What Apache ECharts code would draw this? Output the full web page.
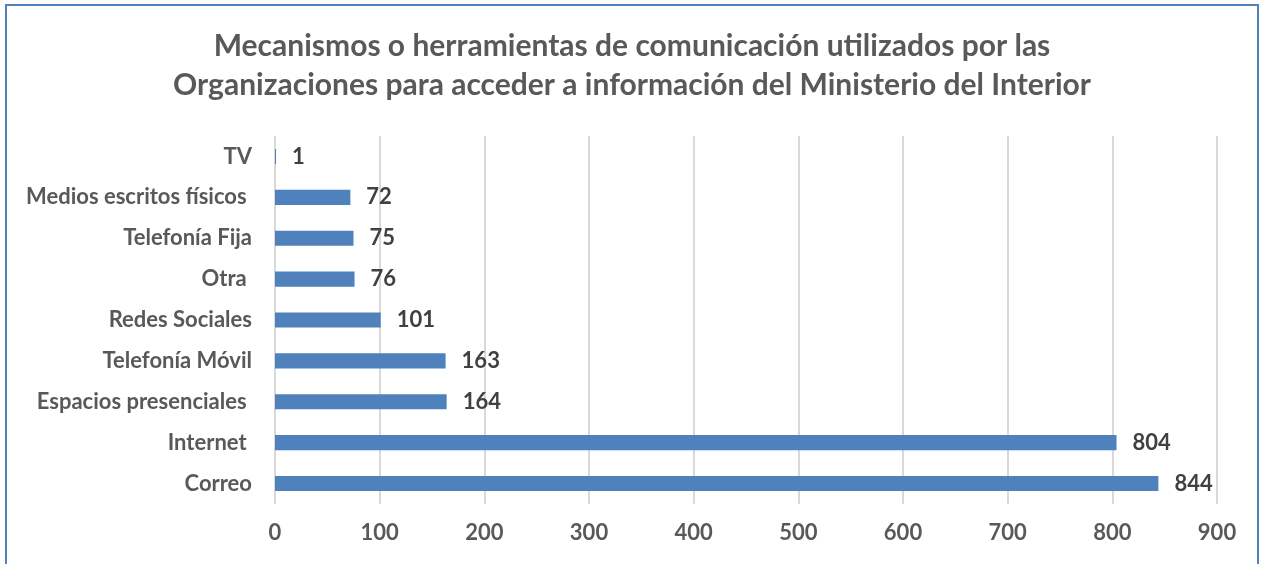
<!DOCTYPE html>
<html>
<head>
<meta charset="utf-8">
<script src="https://cdn.jsdelivr.net/npm/echarts@6/dist/echarts.min.js"></script>
<style>
  html, body { margin: 0; padding: 0; background: #fff; overflow: hidden; }
  #frame {
    position: absolute; left: 5px; top: 4px; width: 1254px; height: 620px;
    border: 2px solid #4f81bd; box-sizing: border-box;
  }
  #chart { position: absolute; left: 0; top: 0; width: 1264px; height: 564px; }
</style>
</head>
<body>
<div id="frame"></div>
<div id="chart"></div>
<script>
const categories = ['Correo', 'Internet ', 'Espacios presenciales ', 'Telefonía Móvil', 'Redes Sociales', 'Otra ', 'Telefonía Fija', 'Medios escritos físicos ', 'TV'];
const values = [844, 804, 164, 163, 101, 76, 75, 72, 1];
const xTicks = { min: 0, max: 900, interval: 100 };

const chart = echarts.init(document.getElementById('chart'));
const font = 'Lato, "Open Sans", sans-serif';

chart.setOption({
  animation: false,
  title: {
    text: 'Mecanismos o herramientas de comunicación utilizados por las\nOrganizaciones para acceder a información del Ministerio del Interior',
    left: 'center',
    top: 22,
    textStyle: {
      fontFamily: font,
      fontSize: 30,
      fontWeight: 'bold',
      color: '#595959',
      lineHeight: 39
    }
  },
  grid: { left: 275, right: 47, top: 136, bottom: 60 },
  xAxis: {
    type: 'value',
    min: xTicks.min,
    max: xTicks.max,
    interval: xTicks.interval,
    axisLine: { show: false },
    axisTick: { show: false },
    splitLine: { lineStyle: { color: '#d9d9d9', width: 2 } },
    axisLabel: {
      margin: 18,
      fontFamily: font,
      fontSize: 22,
      fontWeight: 'bold',
      color: '#595959'
    }
  },
  yAxis: {
    type: 'category',
    data: categories,
    axisLine: { show: false },
    axisTick: { show: false },
    axisLabel: {
      margin: 23,
      fontFamily: font,
      fontSize: 22,
      fontWeight: 'bold',
      color: '#595959'
    }
  },
  series: [{
    type: 'bar',
    data: values,
    barWidth: '37%',
    itemStyle: { color: '#4f81bd' },
    label: {
      show: true,
      position: 'right',
      distance: 16,
      fontFamily: font,
      fontSize: 22,
      fontWeight: 'bold',
      color: '#404040'
    }
  }]
});
</script>
</body>
</html>
